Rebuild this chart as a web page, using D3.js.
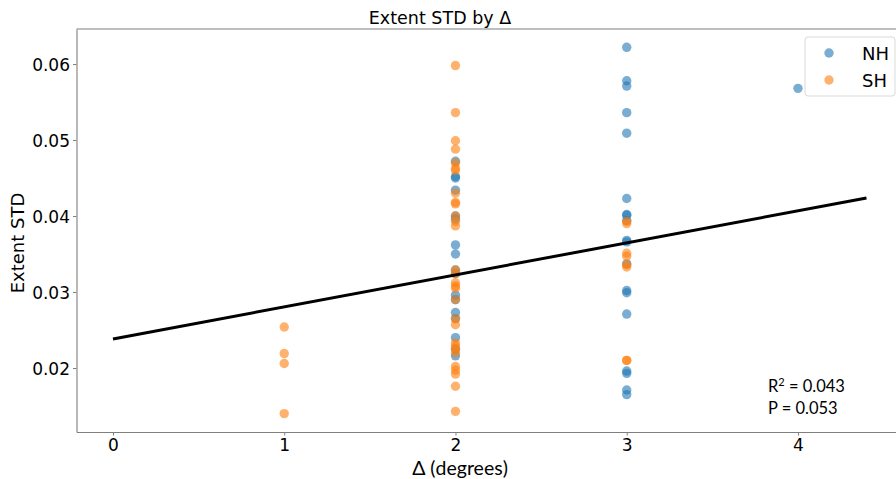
<!DOCTYPE html>
<html>
<head>
<meta charset="utf-8">
<script src="https://cdn.jsdelivr.net/npm/d3@7"></script>
<style>
  html, body { margin: 0; padding: 0; background: #fff; }
  svg { display: block; }
</style>
</head>
<body>
<svg id="chart" width="896" height="479"></svg>
<script>
// Δ (degrees) and extent STD for each hemisphere
const nhDelta = [2,2,2,2,2,2,2,2,2,2,2,2,2,2,2,2,2,
                 3,3,3,3,3,3,3,3,3,3,3,3,3,3,3,3,3,3,3,
                 4];
const nhStd = [0.0472,0.0452,0.0450,0.0434,0.0400,0.0396,0.0362,0.0350,0.0329,0.0324,0.0296,0.0290,0.0273,0.0265,0.0240,0.0225,0.0216,
               0.0622,0.0578,0.0571,0.0536,0.0509,0.0423,0.0402,0.0401,0.0394,0.0368,0.0366,0.0337,0.0302,0.0299,0.0271,0.0196,0.0193,0.0171,0.0165,
               0.0568];

const shDelta = [1,1,1,1,
                 2,2,2,2,2,2,2,2,2,2,2,2,2,2,2,2,2,2,2,2,2,2,2,2,2,2,2,2,2,2,
                 3,3,3,3,3,3,3,3];
const shStd = [0.0254,0.0219,0.0206,0.0140,
               0.0598,0.0536,0.0499,0.0488,0.0470,0.0463,0.0460,0.0430,0.0418,0.0416,0.0400,0.0393,0.0387,0.0329,0.0324,0.0312,0.0308,0.0305,0.0290,0.0265,0.0257,0.0233,0.0229,0.0225,0.0220,0.0202,0.0197,0.0192,0.0176,0.0143,
               0.0393,0.0390,0.0351,0.0347,0.0336,0.0333,0.0210,0.0210];

// Least-squares fit drawn over [0, 4.4]
const fitIntercept = 0.02382;
const fitSlope = 0.004216;
const fitRange = [0, 4.4];
const fitR2 = "0.043";
const fitP = "0.053";

const xTicks = [0, 1, 2, 3, 4];
const yTicks = [0.02, 0.03, 0.04, 0.05, 0.06];
const seriesNames = ["NH", "SH"];
const seriesColors = ["#1f77b4", "#ff7f0e"];

const svg = d3.select("#chart");
const plotLeft = 76.5, plotTop = 29, plotBottom = 432, plotRight = 905;

const x = d3.scaleLinear().domain([-0.213, 4.625]).range([plotLeft, plotRight]);
const y = d3.scaleLinear().domain([0.01158, 0.06461]).range([plotBottom, plotTop]);

const axisColor = "#7f7f7f";
const tickFont = "'DejaVu Sans', sans-serif";

// Axes
const xAxis = svg.append("g")
  .attr("transform", `translate(0,${plotBottom})`)
  .call(d3.axisBottom(x).tickValues(xTicks).tickFormat(d3.format("d"))
    .tickSizeInner(3.5).tickSizeOuter(0).tickPadding(3));
const yAxis = svg.append("g")
  .attr("transform", `translate(${plotLeft},0)`)
  .call(d3.axisLeft(y).tickValues(yTicks).tickFormat(d3.format(".2f"))
    .tickSizeInner(3.5).tickSizeOuter(0).tickPadding(3));

[xAxis, yAxis].forEach(g => {
  g.select(".domain").attr("stroke", axisColor).attr("stroke-width", 1.1);
  g.selectAll(".tick line").attr("stroke", axisColor).attr("stroke-width", 1);
  g.selectAll(".tick text").attr("fill", "#000").style("font-family", tickFont).style("font-size", "17px");
});
yAxis.selectAll(".tick text").attr("dy", "0.36em");

// Top frame line
svg.append("line")
  .attr("x1", plotLeft).attr("x2", 896).attr("y1", plotTop).attr("y2", plotTop)
  .attr("stroke", axisColor).attr("stroke-width", 1.1);

// Points
const plot = svg.append("g");
const nh = nhDelta.map((d, i) => ({d, v: nhStd[i]}));
const sh = shDelta.map((d, i) => ({d, v: shStd[i]}));
[nh, sh].forEach((pts, k) => {
  plot.append("g").selectAll("circle").data(pts).join("circle")
    .attr("cx", p => x(p.d))
    .attr("cy", p => y(p.v))
    .attr("r", 4.7)
    .attr("fill", seriesColors[k])
    .attr("fill-opacity", 0.6);
});

// Regression line
svg.append("line")
  .attr("x1", x(fitRange[0])).attr("y1", y(fitIntercept + fitSlope * fitRange[0]))
  .attr("x2", x(fitRange[1])).attr("y2", y(fitIntercept + fitSlope * fitRange[1]))
  .attr("stroke", "#000").attr("stroke-width", 3);

// Title and axis labels
svg.append("text")
  .attr("x", 440).attr("y", 24).attr("text-anchor", "middle")
  .style("font-family", tickFont).style("font-size", "17.5px")
  .text("Extent STD by Δ");

svg.append("text")
  .attr("transform", "translate(24,243) rotate(-90)")
  .attr("text-anchor", "middle")
  .style("font-family", tickFont).style("font-size", "18px")
  .text("Extent STD");

svg.append("text")
  .attr("x", 460).attr("y", 475).attr("text-anchor", "middle")
  .style("font-family", "Lato, sans-serif").style("font-size", "19.5px")
  .text("Δ (degrees)");

// Fit statistics
const stats = svg.append("text")
  .attr("x", 768).attr("y", 392)
  .style("font-family", "Lato, sans-serif").style("font-size", "16.5px");
stats.append("tspan").text("R");
stats.append("tspan").attr("dy", -6).style("font-size", "11px").text("2");
stats.append("tspan").attr("dy", 6).text(" = " + fitR2);
svg.append("text")
  .attr("x", 768).attr("y", 414)
  .style("font-family", "Lato, sans-serif").style("font-size", "16.5px")
  .text("P = " + fitP);

// Legend
const legend = svg.append("g");
legend.append("rect")
  .attr("x", 805).attr("y", 37).attr("width", 90).attr("height", 59)
  .attr("rx", 3).attr("fill", "#fff").attr("fill-opacity", 0.8)
  .attr("stroke", "#d9d9d9").attr("stroke-width", 1);
seriesNames.forEach((name, i) => {
  const cy = 53 + i * 27;
  legend.append("circle")
    .attr("cx", 829).attr("cy", cy).attr("r", 4.7)
    .attr("fill", seriesColors[i]).attr("fill-opacity", 0.6);
  legend.append("text")
    .attr("x", 862).attr("y", cy + 6.5)
    .style("font-family", tickFont).style("font-size", "18px")
    .text(name);
});
</script>
</body>
</html>
